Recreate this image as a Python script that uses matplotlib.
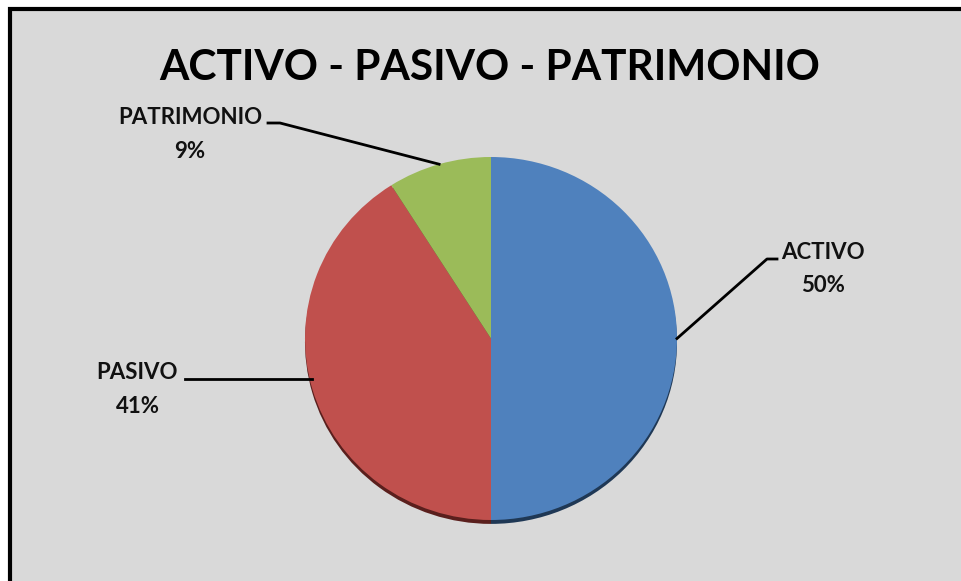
import numpy as np
import matplotlib.pyplot as plt
from matplotlib.patches import Rectangle

# data
labels = ['ACTIVO', 'PASIVO', 'PATRIMONIO']
values = [50, 41, 9]
colors = ['#4f81bd', '#c0504d', '#9bbb59']
shadow_colors = ['#1f3855', '#5a1f1d', '#4a5a2a']

W, H = 961, 581
sy = 186 / 181.5  # slight vertical squash of the pie


def px(x, y):
    # pixel position (from top left) -> data coords
    return x, (H - y) * sy


fig = plt.figure(figsize=(W / 100, H / 100), dpi=100)
fig.patch.set_facecolor('white')
fig.add_artist(Rectangle((10 / W, -0.1), 1.2, 1 - 9 / H + 0.1, transform=fig.transFigure,
                         facecolor='#d9d9d9', edgecolor='black', linewidth=3, zorder=-10))

ax = fig.add_axes([0, 0, 1, 1])

cx, cy = px(491, 338.5)
r = 186

# shadow under the pie
ax.pie(values, colors=shadow_colors, startangle=90, counterclock=False,
       center=(cx, cy - 4), radius=r, frame=True)
wedges, _ = ax.pie(values, colors=colors, startangle=90, counterclock=False,
                   center=(cx, cy), radius=r, frame=True)
ax.set_xlim(0, W)
ax.set_ylim(0, H * sy)
ax.set_aspect('auto')
ax.axis('off')

ax.text(*px(490, 80), 'ACTIVO - PASIVO - PATRIMONIO', ha='center', va='baseline',
        fontsize=30.5, fontweight='bold', family='Lato')

# label text positions (pixel), leader line points, horizontal end into the pie?
label_pos = {
    'ACTIVO': ((823, 259), (823, 292), [(777, 259), (767, 259)], False),
    'PASIVO': ((137, 379), (138, 413), [(185, 379)], True),
    'PATRIMONIO': ((190, 124), (190, 158), [(268, 123), (280, 123)], False),
}

for w, lab, v in zip(wedges, labels, values):
    (lx, ly), (vx, vy), pts, flat = label_pos[lab]
    ax.text(*px(lx, ly), lab, ha='center', va='baseline', fontsize=16,
            fontweight='bold', family='Lato', color='#111111')
    ax.text(*px(vx, vy), f'{v}%', ha='center', va='baseline', fontsize=16,
            fontweight='bold', family='Lato', color='#111111')
    xs = [px(*p)[0] for p in pts]
    ys = [px(*p)[1] for p in pts]
    if flat:
        # run straight across to the pie edge
        ey = ys[-1]
        ex = cx - np.sqrt(r ** 2 - (ey - cy) ** 2) + 2
    else:
        ang = np.deg2rad((w.theta1 + w.theta2) / 2)
        ex, ey = cx + r * np.cos(ang), cy + r * np.sin(ang)
    ax.plot(xs + [ex], ys + [ey], color='black', linewidth=2)

plt.savefig('out.png', dpi=100, facecolor=fig.get_facecolor())
